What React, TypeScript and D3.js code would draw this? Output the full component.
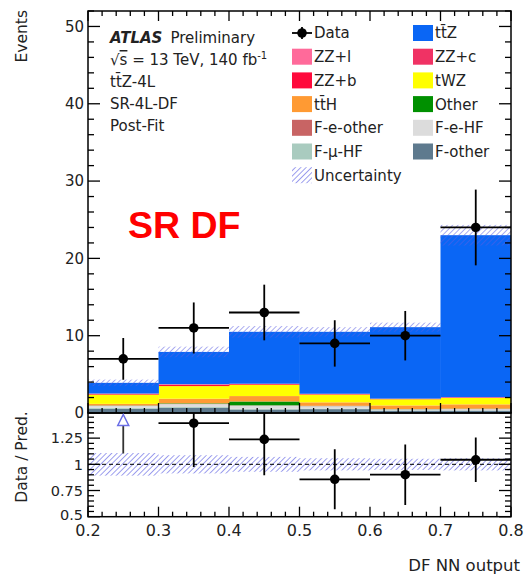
import React from "react";
import * as d3 from "d3";

// ---- data ----
const binEdges = [0.2, 0.3, 0.4, 0.5, 0.6, 0.7, 0.8];
const dataCounts = [7, 11, 13, 9, 10, 24];
const dataErrLow = [2.7, 3.3, 3.6, 3.0, 3.2, 4.9];
const dataErrHigh = [2.7, 3.3, 3.6, 3.0, 3.2, 4.9];

// stacked samples (bottom -> top)
const fOther = [0.55, 0.65, 0.45, 0.5, 0.3, 0.3];
const fMuHF = [0.12, 0.12, 0.11, 0.08, 0.05, 0.05];
const fEHF = [0.25, 0.38, 0.4, 0.3, 0.12, 0.15];
const fEOther = [0.03, 0.03, 0.03, 0.02, 0.02, 0.02];
const otherBkg = [0.03, 0.07, 0.5, 0.03, 0.02, 0.04];
const ttH = [0.2, 0.6, 0.7, 0.45, 0.47, 0.56];
const tWZ = [1.2, 1.63, 1.46, 1.0, 0.8, 0.82];
const zzB = [0.08, 0.15, 0.09, 0.06, 0.04, 0.06];
const zzC = [0.03, 0.05, 0.03, 0.03, 0.02, 0.03];
const zzL = [0.03, 0.05, 0.02, 0.02, 0.02, 0.02];
const ttZ = [1.38, 4.17, 6.71, 8.01, 9.24, 20.95];
const relUnc = [0.108, 0.087, 0.071, 0.058, 0.053, 0.058];

const sampleKeys = ["fOther", "fMuHF", "fEHF", "fEOther", "other", "ttH", "tWZ", "zzB", "zzC", "zzL", "ttZ"];
const sampleValues = [fOther, fMuHF, fEHF, fEOther, otherBkg, ttH, tWZ, zzB, zzC, zzL, ttZ];
const sampleColors = ["#5e7a8e", "#a9cbbf", "#dcdcdc", "#c86464", "#009000", "#ff9a33", "#ffff00", "#ff0a3c", "#f03264", "#ff6a9a", "#0a66f5"];

const legendLeft = [
  { label: "Data", kind: "data" },
  { label: "ZZ+l", color: "#ff6a9a" },
  { label: "ZZ+b", color: "#ff0a3c" },
  { label: "tt\u0304H", color: "#ff9a33" },
  { label: "F-e-other", color: "#c86464" },
  { label: "F-\u03bc-HF", color: "#a9cbbf" },
  { label: "Uncertainty", kind: "hatch" },
];
const legendRight = [
  { label: "tt\u0304Z", color: "#0a66f5" },
  { label: "ZZ+c", color: "#f03264" },
  { label: "tWZ", color: "#ffff00" },
  { label: "Other", color: "#009000" },
  { label: "F-e-HF", color: "#dcdcdc" },
  { label: "F-other", color: "#5e7a8e" },
];

const mainYTicks = [0, 10, 20, 30, 40, 50];
const ratioYTicks = [0.5, 0.75, 1, 1.25];
const ratioYLabels = ["0.5", "0.75", "1", "1.25"];
const xTicks = [0.2, 0.3, 0.4, 0.5, 0.6, 0.7, 0.8];

const FONT = "DejaVu Sans, Liberation Sans, Arial, sans-serif";
const HATCH = "#5a5ee2";

export default function App() {
  const W = 524, H = 574;
  const x = d3.scaleLinear().domain([0.2, 0.8]).range([88, 511]);
  const y = d3.scaleLinear().domain([0, 52]).range([413, 11]);
  const yr = d3.scaleLinear().domain([0.5, 1.49]).range([516.7, 413]);

  const nb = dataCounts.length;
  const rows = d3.range(nb).map((i) => {
    const r: any = { i };
    sampleKeys.forEach((k, j) => (r[k] = sampleValues[j][i]));
    return r;
  });
  const series = d3.stack().keys(sampleKeys)(rows);
  const totals = d3.range(nb).map((i) => d3.sum(sampleValues, (s) => s[i]));

  const mainL = x.range()[0], mainR = x.range()[1];
  const mainT = y.range()[1], mainB = y.range()[0];
  const ratT = yr.range()[1], ratB = yr.range()[0];

  const majLen = 12, minLen = 6, xMaj = 10, xMin = 5;
  const mainMinorY = d3.range(0, 52.01, 2).filter((v) => v % 10 !== 0);
  const ratioMinorY = d3.range(0.5, 1.49, 0.05).filter((v) => Math.abs(v * 4 - Math.round(v * 4)) > 1e-6);
  const xMinor = d3.range(0.2, 0.8001, 0.02).filter((v) => Math.abs(v * 10 - Math.round(v * 10)) > 1e-6);

  const ticksLeftRight = (vals: number[], sc: any, len: number, key: string) =>
    vals.map((v, i) => (
      <g key={key + i}>
        <line x1={mainL} x2={mainL + len} y1={sc(v)} y2={sc(v)} stroke="#000" strokeWidth={1.3} />
        <line x1={mainR} x2={mainR - len} y1={sc(v)} y2={sc(v)} stroke="#000" strokeWidth={1.3} />
      </g>
    ));

  const xTickLines = (vals: number[], yBase: number, len: number, dir: number, key: string) =>
    vals.map((v, i) => (
      <line key={key + i} x1={x(v)} x2={x(v)} y1={yBase} y2={yBase + dir * len} stroke="#000" strokeWidth={1.3} />
    ));

  return (
    <svg width={W} height={H} style={{ position: "absolute", left: 0, top: 0, background: "#fff" }} fontFamily={FONT}>
      <defs>
        <pattern id="hatch" patternUnits="userSpaceOnUse" width={3.8} height={3.8} patternTransform="rotate(45)">
          <line x1={0} y1={0} x2={0} y2={3.8} stroke={HATCH} strokeWidth={1.2} />
        </pattern>
        <clipPath id="ratioClip">
          <rect x={mainL} y={ratT} width={mainR - mainL} height={ratB - ratT} />
        </clipPath>
        <clipPath id="mainClip">
          <rect x={mainL} y={mainT} width={mainR - mainL} height={mainB - mainT} />
        </clipPath>
      </defs>
      <rect x={0} y={0} width={W} height={H} fill="#fff" />

      {/* stacked histogram */}
      <g clipPath="url(#mainClip)">
        {series.map((s, j) =>
          s.map((d, i) => (
            <rect
              key={sampleKeys[j] + i}
              x={x(binEdges[i])}
              y={y(d[1])}
              width={x(binEdges[i + 1]) - x(binEdges[i]) + 0.4}
              height={Math.max(0, y(d[0]) - y(d[1]))}
              fill={sampleColors[j]}
            />
          ))
        )}
        {/* uncertainty band */}
        {totals.map((t, i) => (
          <rect
            key={"unc" + i}
            x={x(binEdges[i])}
            y={y(t * (1 + relUnc[i]))}
            width={x(binEdges[i + 1]) - x(binEdges[i])}
            height={y(t * (1 - relUnc[i])) - y(t * (1 + relUnc[i]))}
            fill="url(#hatch)"
            opacity={0.85}
          />
        ))}
      </g>

      {/* ratio band */}
      <g clipPath="url(#ratioClip)">
        {totals.map((t, i) => (
          <rect
            key={"runc" + i}
            x={x(binEdges[i])}
            y={yr(1 + relUnc[i])}
            width={x(binEdges[i + 1]) - x(binEdges[i])}
            height={yr(1 - relUnc[i]) - yr(1 + relUnc[i])}
            fill="url(#hatch)"
          />
        ))}
        <line x1={mainL} x2={mainR} y1={yr(1)} y2={yr(1)} stroke="#000" strokeWidth={1} strokeDasharray="4,3" />
      </g>

      {/* frames */}
      <rect x={mainL} y={mainT} width={mainR - mainL} height={mainB - mainT} fill="none" stroke="#000" strokeWidth={1.5} />
      <rect x={mainL} y={ratT} width={mainR - mainL} height={ratB - ratT} fill="none" stroke="#000" strokeWidth={1.5} />

      {/* ticks */}
      {ticksLeftRight(mainYTicks, y, majLen, "my")}
      {ticksLeftRight(mainMinorY, y, minLen, "mym")}
      {ticksLeftRight(ratioYTicks, yr, majLen, "ry")}
      {ticksLeftRight(ratioMinorY, yr, minLen, "rym")}
      {xTickLines(xTicks, mainT, xMaj, 1, "xt")}
      {xTickLines(xMinor, mainT, xMin, 1, "xtm")}
      {xTickLines(xTicks, mainB, xMaj, -1, "xb")}
      {xTickLines(xMinor, mainB, xMin, -1, "xbm")}
      {xTickLines(xTicks, ratB, xMaj, -1, "xr")}
      {xTickLines(xMinor, ratB, xMin, -1, "xrm")}

      {/* tick labels */}
      {mainYTicks.map((v, i) => (
        <text key={"myl" + i} x={84} y={y(v)} dy="0.36em" textAnchor="end" fontSize={15} fill="#222">{v}</text>
      ))}
      {ratioYTicks.map((v, i) => (
        <text key={"ryl" + i} x={83} y={yr(v) - (i === 0 ? 2 : 0)} dy="0.36em" textAnchor="end" fontSize={14.5} fill="#222">{ratioYLabels[i]}</text>
      ))}
      {xTicks.map((v, i) => (
        <text key={"xl" + i} x={x(v)} y={536} textAnchor="middle" fontSize={16} fill="#222">{v.toFixed(1)}</text>
      ))}

      {/* axis titles */}
      <text transform="translate(27,10) rotate(-90)" textAnchor="end" fontSize={15.5} fill="#222">Events</text>
      <text transform="translate(27,457) rotate(-90)" textAnchor="middle" fontSize={15.5} fill="#222">Data / Pred.</text>
      <text x={520} y={571} textAnchor="end" fontSize={16.5} fill="#222">DF NN output</text>

      {/* data points main */}
      {dataCounts.map((v, i) => {
        const cx = x((binEdges[i] + binEdges[i + 1]) / 2);
        return (
          <g key={"d" + i}>
            <line x1={x(binEdges[i])} x2={x(binEdges[i + 1])} y1={y(v)} y2={y(v)} stroke="#000" strokeWidth={1.8} />
            <line x1={cx} x2={cx} y1={y(v + dataErrHigh[i])} y2={y(v - dataErrLow[i])} stroke="#000" strokeWidth={1.8} />
            <circle cx={cx} cy={y(v)} r={4.8} fill="#000" />
          </g>
        );
      })}

      {/* ratio points */}
      <g clipPath="url(#ratioClip)">
        {dataCounts.map((v, i) => {
          const t = totals[i];
          const r = v / t;
          const cx = x((binEdges[i] + binEdges[i + 1]) / 2);
          const lo = (v - dataErrLow[i]) / t;
          const hi = (v + dataErrHigh[i]) / t;
          if (r > yr.domain()[1]) {
            const tipY = ratT + 1.5;
            const baseY = tipY + 11;
            return (
              <g key={"r" + i}>
                <line x1={cx} x2={cx} y1={baseY} y2={yr(lo)} stroke="#333" strokeWidth={1.8} />
                <path d={`M${cx},${tipY} L${cx - 5.5},${baseY} L${cx + 5.5},${baseY} Z`} fill="#fff" stroke="#6b6fe6" strokeWidth={1.5} />
              </g>
            );
          }
          return (
            <g key={"r" + i}>
              <line x1={x(binEdges[i])} x2={x(binEdges[i + 1])} y1={yr(r)} y2={yr(r)} stroke="#000" strokeWidth={1.8} />
              <line x1={cx} x2={cx} y1={yr(hi)} y2={yr(lo)} stroke="#000" strokeWidth={1.8} />
              <circle cx={cx} cy={yr(r)} r={4.8} fill="#000" />
            </g>
          );
        })}
      </g>

      {/* labels top-left */}
      <text x={110} y={43} fontSize={15} fill="#222">
        <tspan fontWeight="bold" fontStyle="italic">ATLAS</tspan>
        <tspan dx={8}>Preliminary</tspan>
      </text>
      <text x={110} y={65} fontSize={15} fill="#222">
        √<tspan textDecoration="overline">s</tspan> = 13 TeV, 140 fb<tspan dy={-6} fontSize={10}>-1</tspan>
      </text>
      <text x={110} y={87} fontSize={15} fill="#222">tt̄Z-4L</text>
      <text x={110} y={109} fontSize={15} fill="#222">SR-4L-DF</text>
      <text x={110} y={131} fontSize={15} fill="#222">Post-Fit</text>

      <text x={128} y={238} fontSize={37.5} fontWeight="bold" fill="#ff0000" fontFamily="Liberation Sans, Arial, sans-serif">SR DF</text>

      {/* legend */}
      {legendLeft.map((e: any, i) => {
        const cy = 33 + i * 23.7;
        return (
          <g key={"ll" + i}>
            {e.kind === "data" ? (
              <g>
                <line x1={292} x2={312} y1={cy} y2={cy} stroke="#000" strokeWidth={1.8} />
                <line x1={302} x2={302} y1={cy - 6} y2={cy + 6} stroke="#000" strokeWidth={1.8} />
                <circle cx={302} cy={cy} r={4.8} fill="#000" />
              </g>
            ) : e.kind === "hatch" ? (
              <rect x={292} y={cy - 8} width={20} height={16} fill="url(#hatch)" />
            ) : (
              <rect x={292} y={cy - 8} width={20} height={16} fill={e.color} />
            )}
            <text x={314} y={cy} dy="0.36em" fontSize={15} fill="#222">{e.label}</text>
          </g>
        );
      })}
      {legendRight.map((e: any, i) => {
        const cy = 33 + i * 23.7;
        return (
          <g key={"lr" + i}>
            <rect x={413} y={cy - 8} width={20} height={16} fill={e.color} />
            <text x={435} y={cy} dy="0.36em" fontSize={15} fill="#222">{e.label}</text>
          </g>
        );
      })}
    </svg>
  );
}
